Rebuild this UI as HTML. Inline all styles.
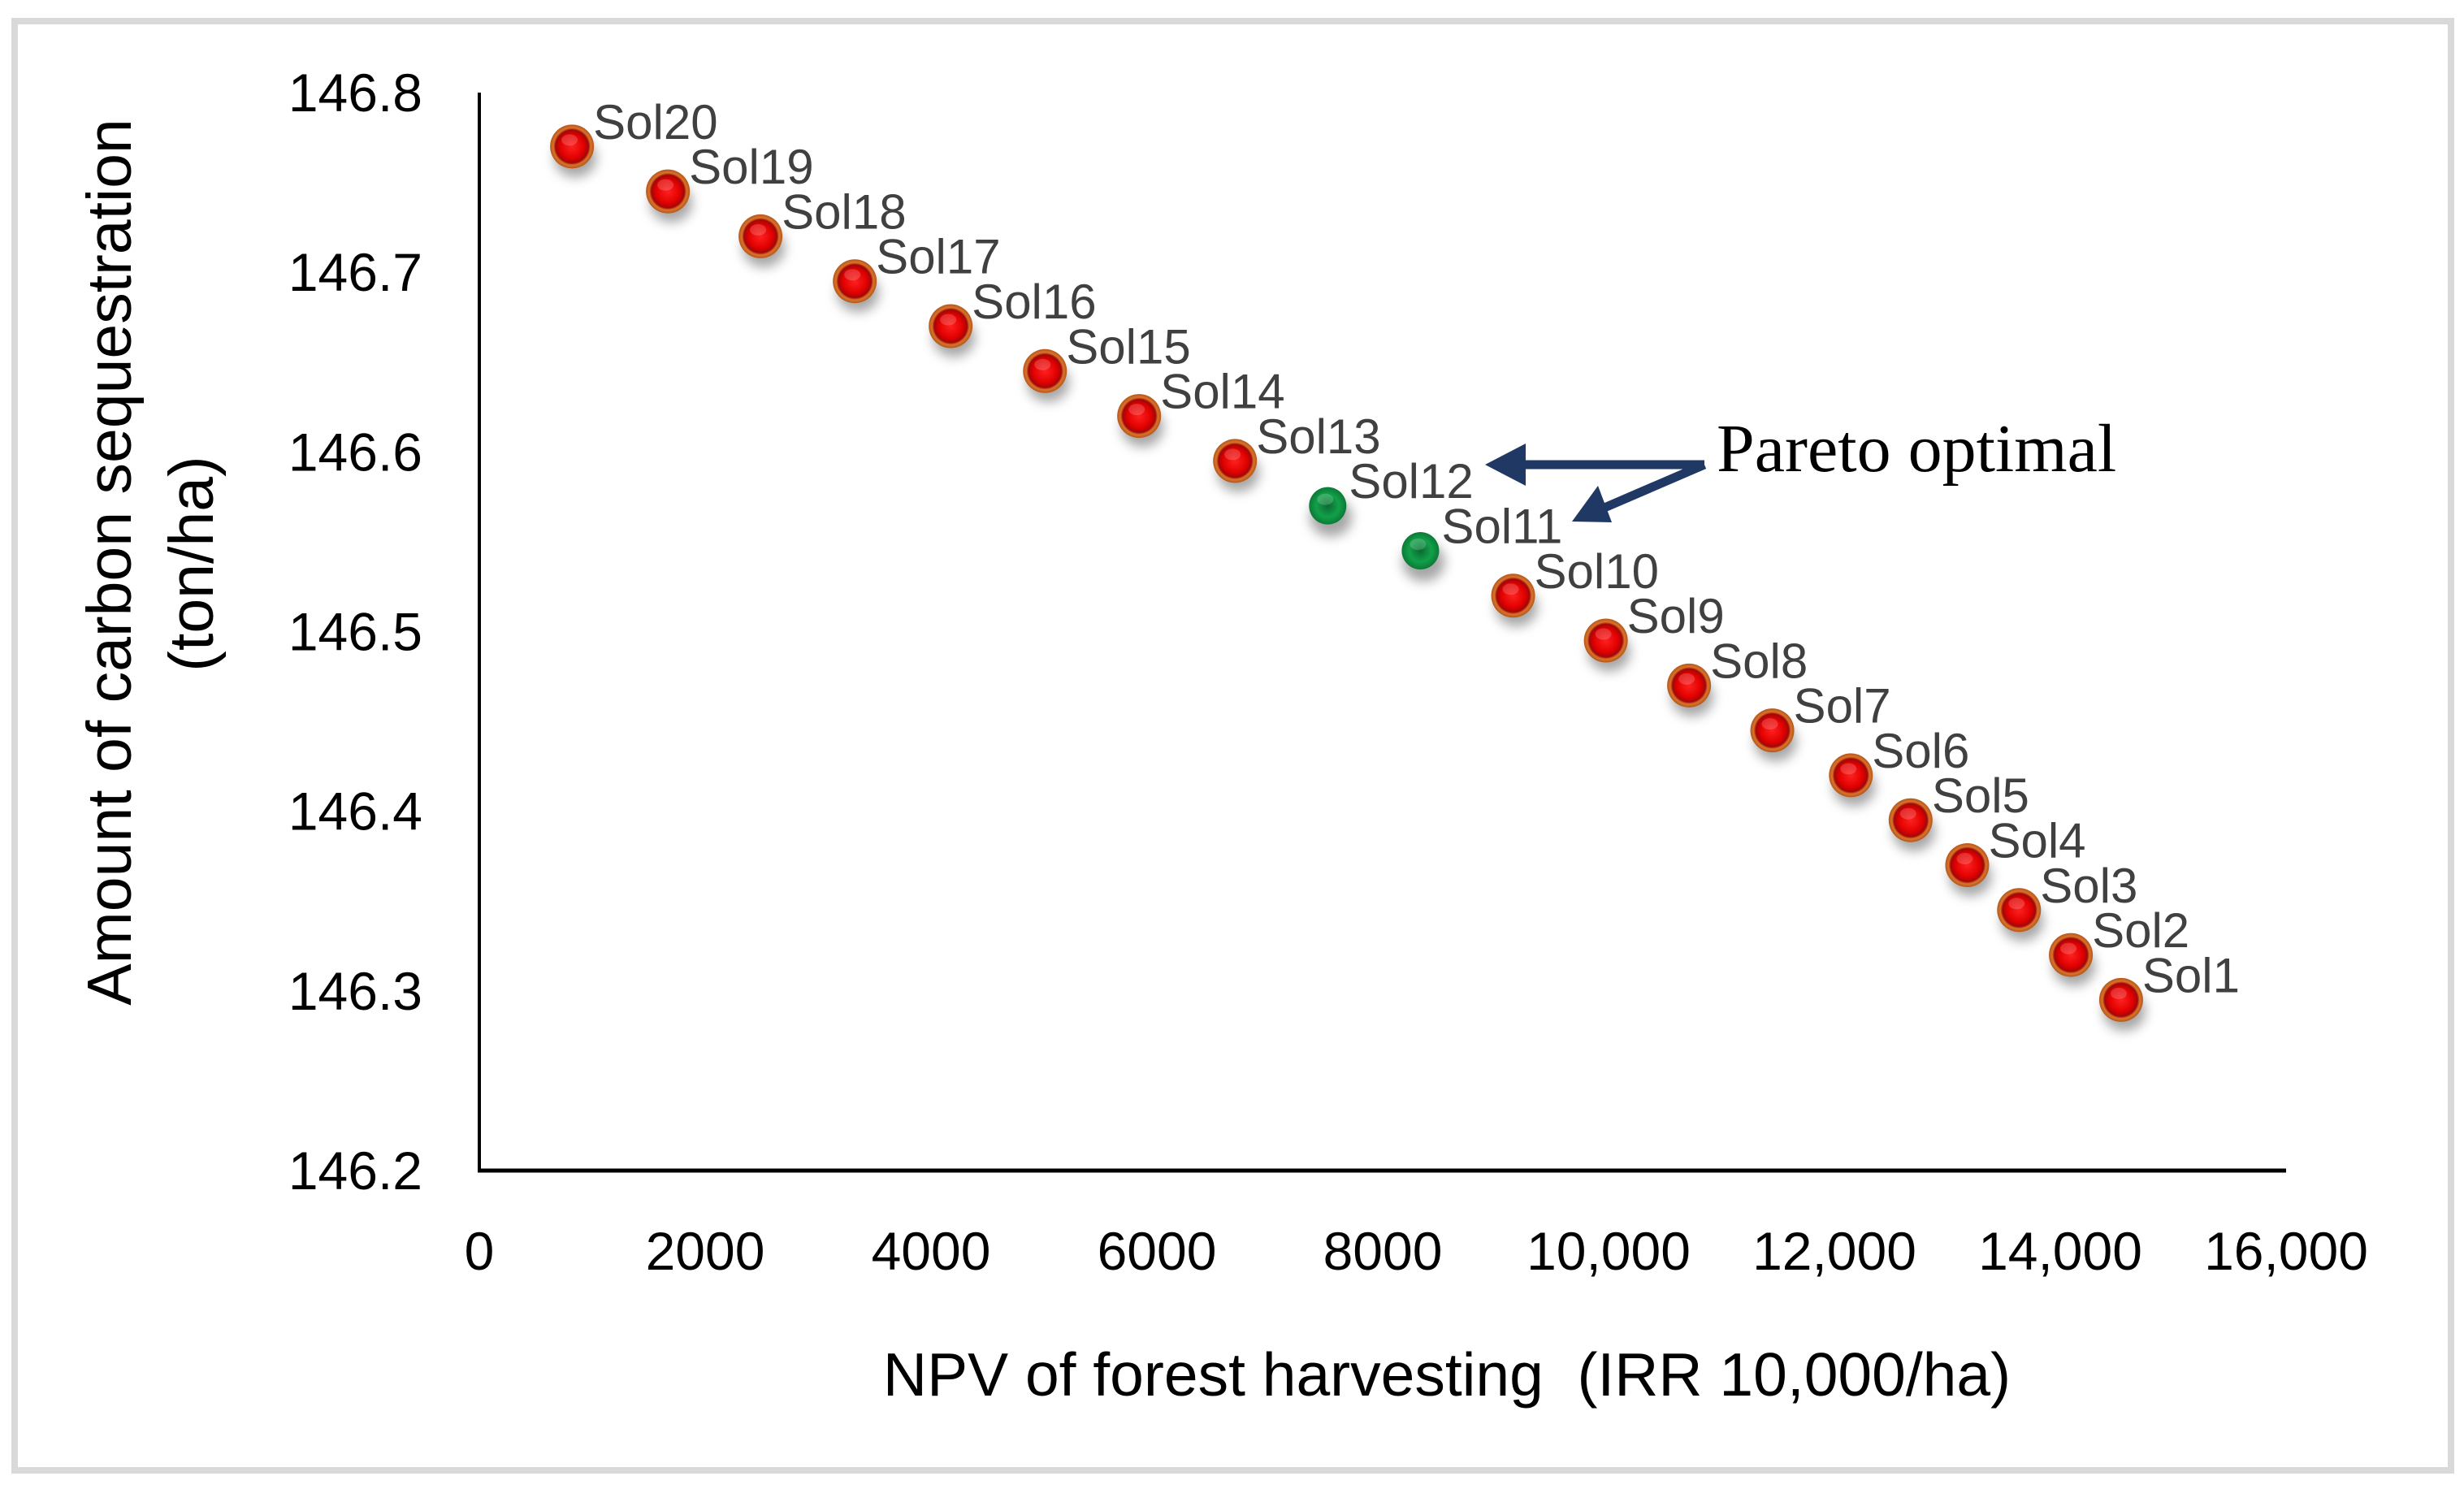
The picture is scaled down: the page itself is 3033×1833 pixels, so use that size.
<!DOCTYPE html>
<html><head><meta charset="utf-8"><title>Pareto solutions chart</title>
<style>
html,body{margin:0;padding:0;background:#fff;}
svg{display:block;}
.tick{font-family:"Liberation Sans Narrow","Liberation Sans",sans-serif;font-size:66px;fill:#000;}
.lab{font-family:"Liberation Sans Narrow","Liberation Sans",sans-serif;font-size:60px;fill:#404040;}
.title{font-family:"Liberation Sans",sans-serif;fill:#000;}
</style></head>
<body>
<svg id="chart" width="3033" height="1833" viewBox="0 0 3033 1833" xmlns="http://www.w3.org/2000/svg">
<defs>
<radialGradient id="redBall" cx="50%" cy="50%" r="50%">
<stop offset="0%" stop-color="#ff2020"/>
<stop offset="55%" stop-color="#e00000"/>
<stop offset="75%" stop-color="#a00808"/>
<stop offset="85%" stop-color="#d9742a"/>
<stop offset="100%" stop-color="#b5561a"/>
</radialGradient>
<radialGradient id="greenBall" cx="50%" cy="50%" r="50%">
<stop offset="0%" stop-color="#0a6a30"/>
<stop offset="60%" stop-color="#12a04a"/>
<stop offset="100%" stop-color="#0b7a36"/>
</radialGradient>
<filter id="blur" x="-50%" y="-50%" width="200%" height="200%"><feGaussianBlur stdDeviation="7"/></filter>
</defs>
<rect x="18" y="26" width="2999" height="1784" fill="none" stroke="#d9d9d9" stroke-width="8"/>
<g id="axes"></g>
<g id="marks"></g>
<text class="title" font-size="77" transform="translate(135,692) rotate(-90)" text-anchor="middle" dominant-baseline="central">Amount of carbon sequestration</text>
<text class="title" font-size="77" transform="translate(236,694) rotate(-90)" text-anchor="middle" dominant-baseline="central">(ton/ha)</text>
<text class="title" font-size="75" x="1781" y="1692" text-anchor="middle" dominant-baseline="central" xml:space="preserve">NPV of forest harvesting  (IRR 10,000/ha)</text>
<g>
<text x="2113" y="580" font-family="Liberation Serif, serif" font-size="84" fill="#000">Pareto optimal</text>
<line x1="2098" y1="572" x2="1870" y2="572" stroke="#1f3864" stroke-width="11"/>
<polygon points="1828,572 1878,546 1878,598" fill="#1f3864"/>
<line x1="2098" y1="572" x2="1975" y2="625" stroke="#1f3864" stroke-width="11"/>
<polygon points="1935,642 1967,598 1984,643" fill="#1f3864"/>
</g>
</svg>
<script>
const solNames = ["Sol1","Sol2","Sol3","Sol4","Sol5","Sol6","Sol7","Sol8","Sol9","Sol10","Sol11","Sol12","Sol13","Sol14","Sol15","Sol16","Sol17","Sol18","Sol19","Sol20"];
const npvValues = [14539,14094,13635,13176,12675,12146,11450,10713,9976,9155,8334,7513,6692,5843,5009,4174,3325,2490,1670,821];
const carbonValues = [146.295,146.320,146.345,146.370,146.395,146.420,146.445,146.470,146.495,146.520,146.545,146.570,146.595,146.620,146.645,146.670,146.695,146.720,146.745,146.770];
const paretoFlags = [0,0,0,0,0,0,0,0,0,0,1,1,0,0,0,0,0,0,0,0];
const xTicks = [0,2000,4000,6000,8000,10000,12000,14000,16000];
const xTickLabels = ["0","2000","4000","6000","8000","10,000","12,000","14,000","16,000"];
const yTicks = [146.2,146.3,146.4,146.5,146.6,146.7,146.8];
const yTickLabels = ["146.2","146.3","146.4","146.5","146.6","146.7","146.8"];

const NS = "http://www.w3.org/2000/svg";
const X0 = 590, X1 = 2814, Y0 = 1441, Y1 = 114;
const xMin = 0, xMax = 16000, yMin = 146.2, yMax = 146.8;
function xs(v){ return X0 + (v - xMin) / (xMax - xMin) * (X1 - X0); }
function ys(v){ return Y0 - (v - yMin) / (yMax - yMin) * (Y0 - Y1); }
function mk(tag, attrs){ const e = document.createElementNS(NS, tag); for (const k in attrs) e.setAttribute(k, attrs[k]); return e; }

const axes = document.getElementById('axes');
const yAxis = mk('line', {x1:X0, y1:Y1, x2:X0, y2:Y0, stroke:'#000', 'stroke-width':4});


axes.appendChild(yAxis);
const xAxis = mk('line', {x1:X0-2, y1:Y0, x2:X1, y2:Y0, stroke:'#000', 'stroke-width':5});


axes.appendChild(xAxis);

xTicks.forEach((t, i) => {
  const tx = mk('text', {x: xs(t), y: 1540, 'text-anchor':'middle', 'dominant-baseline':'central', class:'tick'});
  tx.textContent = xTickLabels[i];
  
  
  axes.appendChild(tx);
});
yTicks.forEach((t, i) => {
  const tx = mk('text', {x: 520, y: ys(t), 'text-anchor':'end', 'dominant-baseline':'central', class:'tick'});
  tx.textContent = yTickLabels[i];
  
  
  axes.appendChild(tx);
});

const marks = document.getElementById('marks');
solNames.forEach((n, i) => {
  const cx = xs(npvValues[i]), cy = ys(carbonValues[i]);
  const g = mk('g', {});
  
  
  const sh = mk('ellipse', {cx: cx + 4, cy: cy + 14, rx: 26, ry: 24, fill: 'rgba(0,0,0,0.35)', filter: 'url(#blur)'});
  
  
  g.appendChild(sh);
  const c = mk('circle', {cx: cx, cy: cy, r: paretoFlags[i] ? 23 : 27, fill: paretoFlags[i] ? 'url(#greenBall)' : 'url(#redBall)'});
  
  
  g.appendChild(c);
  const hl = mk('ellipse', {cx: cx - 3, cy: cy - 8, rx: 10, ry: 7, fill: 'rgba(255,255,255,0.18)'});
  
  
  g.appendChild(hl);
  const lb = mk('text', {x: cx + 26, y: cy - 30, 'dominant-baseline':'central', class:'lab'});
  lb.textContent = n;
  
  
  g.appendChild(lb);
  marks.appendChild(g);
});
</script>
</body></html>
